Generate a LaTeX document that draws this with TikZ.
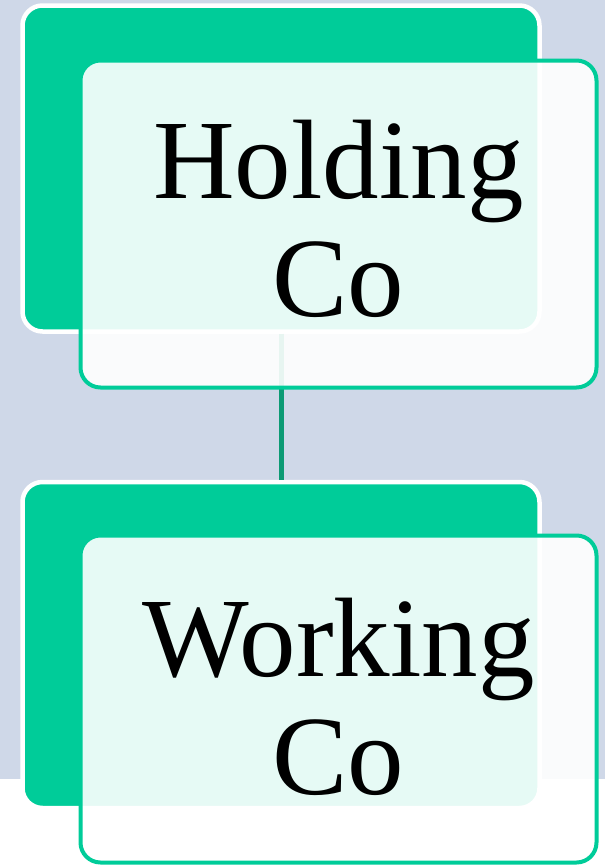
\documentclass[tikz,border=0pt]{standalone}
\usepackage{fontspec}
\setmainfont{Liberation Serif}
\usetikzlibrary{positioning}
\definecolor{orgback}{HTML}{CFD8E8}
\definecolor{orggreen}{HTML}{00CC99}
\definecolor{orglink}{HTML}{0C9A74}

\begin{document}
\begin{tikzpicture}[x=1pt,y=1pt,
 every node/.style={font=\fontsize{113}{118}\selectfont,align=center},
 backbox/.style={draw=white,line width=4.5pt,fill=orggreen,rounded corners=20pt,
  minimum width=517pt,minimum height=326pt,inner sep=0pt},
 frontbox/.style={draw=orggreen,line width=4pt,fill=white,fill opacity=.9,
  rounded corners=20pt,minimum width=516pt,minimum height=327pt,inner sep=0pt},
 boxtext/.style={inner sep=0pt},
 link/.style={draw=orglink,line width=5pt}]
\useasboundingbox (0,0) rectangle (605,-865);
\fill[orgback] (0,0) rectangle (605,-779);

\node[backbox] (holdingback) at (281,-168.5) {};
\node[backbox] (workingback) at (281,-645) {};
\draw[link] (holdingback.south)--(workingback.north);

\node[frontbox] (holding) at (338.5,-224) {};
\node[frontbox] (working) at (338.5,-699) {};
\node[boxtext] (holdingtext) at ([yshift=5pt]holding.center) {Holding\\Co};
\node[boxtext] (workingtext) at ([yshift=2pt]working.center) {Working\\Co};
\end{tikzpicture}
\end{document}
